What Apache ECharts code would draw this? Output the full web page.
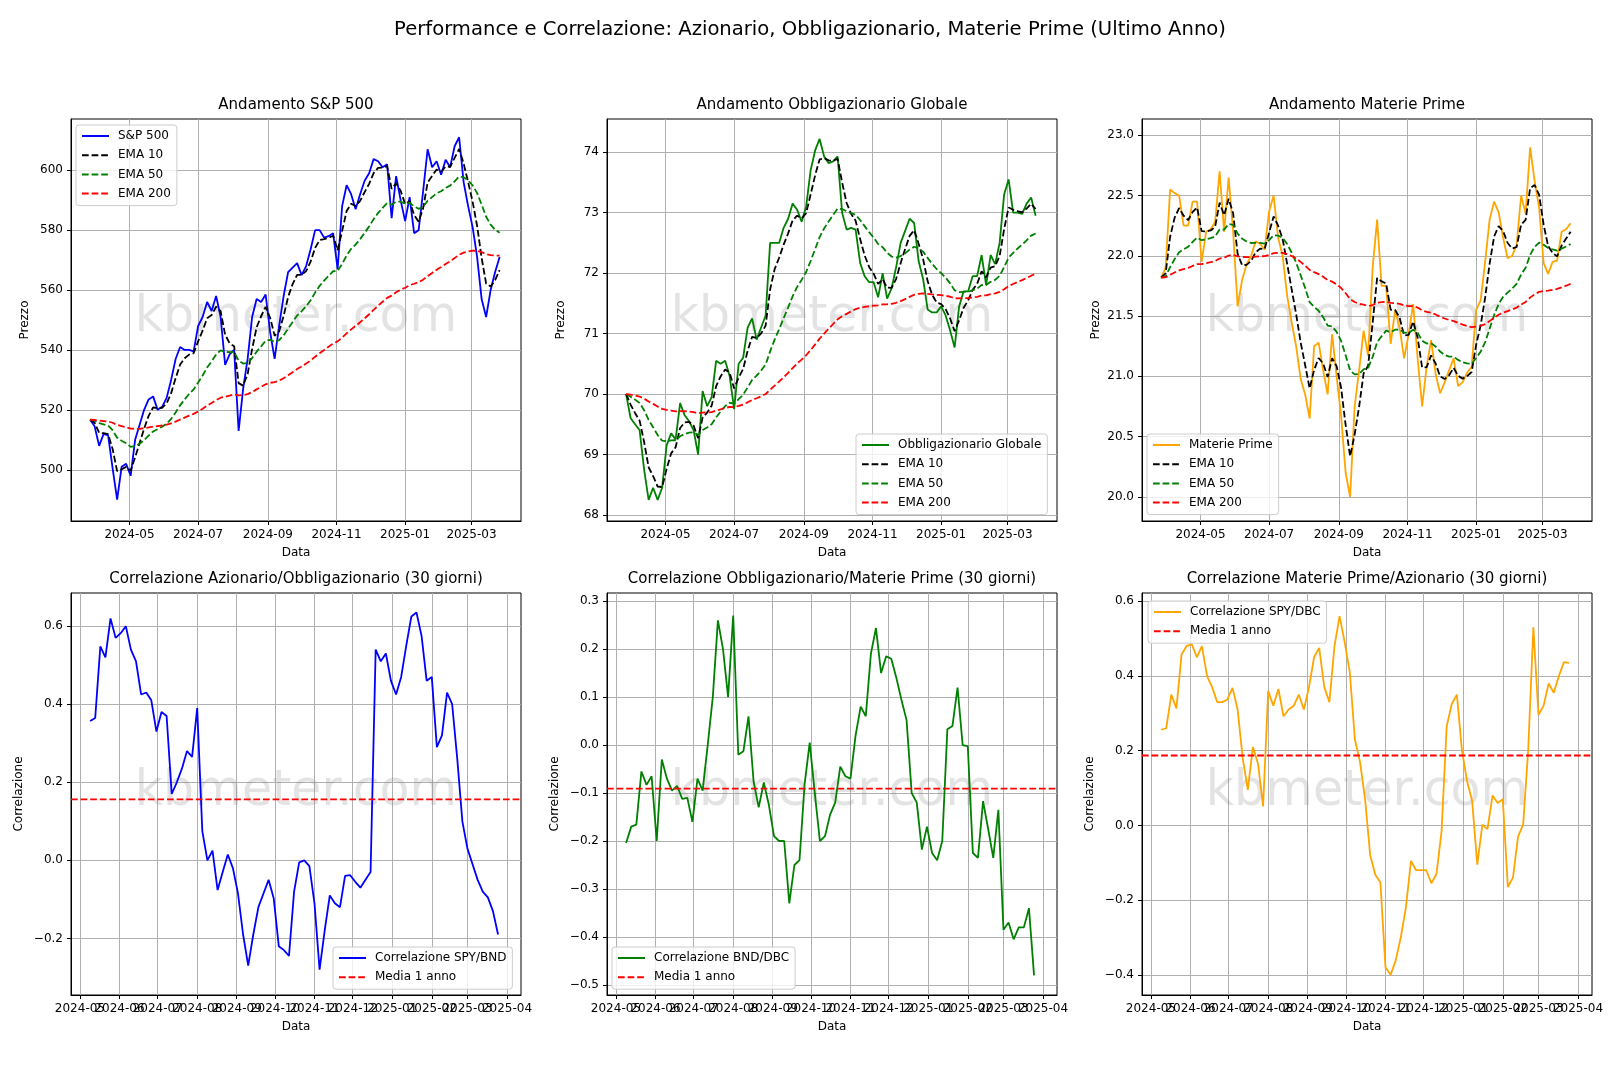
<!DOCTYPE html>
<html>
<head>
<meta charset="utf-8">
<title>Performance e Correlazione</title>
<script src="https://cdn.jsdelivr.net/npm/echarts@6/dist/echarts.min.js"></script>
<style>
  html, body { margin: 0; padding: 0; background: #fff; }
  #chart { width: 1620px; height: 1080px; }
</style>
</head>
<body>
<div id="chart"></div>
<script>
const FONT = 'DejaVu Sans'
const DAY = 86400000
const STEP = 4 // giorni tra un punto e l'altro

// prezzi: un punto ogni 4 giorni dal 2024-03-27
const priceStart = '2024-03-27'
const spx = [
  516.7, 514.5, 508, 512, 511.5, 500.5, 490, 501, 502, 498,
  510, 515, 520, 523.5, 524.5, 520, 521, 524, 530, 537,
  541, 540, 540, 539.5, 548, 551, 556, 553, 558, 551,
  535, 538.5, 540, 513, 527, 537, 551, 557, 556, 558.5,
  546, 537, 548, 558, 566, 567.5, 569, 565, 568, 573.6,
  580, 580, 577.5, 578, 579, 567, 588, 595, 592, 587,
  592, 596.5, 599, 603.7, 603, 601, 602, 584, 598, 590,
  583, 591, 579, 580, 593, 607, 601, 603, 598.5, 603.5,
  601, 608, 611, 596, 588, 581, 571, 557, 551, 560,
  566, 571
]
const bond = [
  70.0, 69.6, 69.5, 69.4, 68.75, 68.25, 68.45, 68.25, 68.45, 69.15,
  69.35, 69.25, 69.85, 69.65, 69.55, 69.4, 69.0, 70.05, 69.8, 69.95,
  70.55, 70.5, 70.55, 70.3, 69.75, 70.5, 70.6, 71.1, 71.25, 70.9,
  71.1, 71.3, 72.5, 72.5, 72.5, 72.75, 72.9, 73.15, 73.05, 72.85,
  73.1, 73.7, 74.03, 74.22, 73.93, 73.82, 73.85, 73.93, 73.0, 72.72,
  72.75, 72.72, 72.17, 71.95, 71.85, 71.85, 71.6, 72.0, 71.58, 71.75,
  72.1, 72.5, 72.7, 72.9, 72.83, 72.2, 71.9, 71.4, 71.35, 71.35,
  71.45, 71.3, 71.05, 70.77, 71.45, 71.7, 71.7, 71.95, 71.95, 72.3,
  71.8, 72.3, 72.15, 72.5, 73.3, 73.55, 73.0, 73.0, 72.98, 73.15,
  73.25, 72.95
]
const cmdty = [
  21.82, 21.9, 22.55, 22.52, 22.5, 22.25, 22.25, 22.45, 22.45, 21.95,
  22.2, 22.22, 22.28, 22.7, 22.2, 22.65, 22.2, 21.58, 21.8, 21.93,
  22.0, 22.12, 22.1, 22.05, 22.37, 22.5, 22.15, 22.0, 21.67, 21.45,
  21.25, 20.98, 20.85, 20.65, 21.25, 21.28, 21.05, 20.85, 21.35, 21.0,
  20.67, 20.2, 20.0, 20.75, 21.05, 21.38, 21.17, 21.9, 22.3, 21.75,
  21.75, 21.27, 21.55, 21.4, 21.15, 21.35, 21.6, 21.15, 20.75, 21.08,
  21.3, 21.02, 20.86, 20.95, 21.05, 21.15, 20.92, 20.95, 21.03, 21.08,
  21.55, 21.63, 21.95, 22.3, 22.45, 22.36, 22.15, 21.98, 22.0, 22.09,
  22.5, 22.35, 22.9, 22.62, 22.4, 21.94, 21.85, 21.95, 21.96, 22.2,
  22.22, 22.27
]

// correlazioni a 30 giorni: un punto ogni 4 giorni dal 2024-05-09
const corrStart = '2024-05-09'
const corrSpyBnd = [
  0.357, 0.365, 0.548, 0.52, 0.62, 0.57, 0.582, 0.6, 0.54, 0.51,
  0.425, 0.43, 0.41, 0.33, 0.38, 0.37, 0.17, 0.2, 0.235, 0.28,
  0.265, 0.39, 0.075, 0.0, 0.025, -0.076, -0.03, 0.015, -0.02, -0.085,
  -0.19, -0.27, -0.19, -0.12, -0.085, -0.05, -0.097, -0.22, -0.23, -0.245,
  -0.08, -0.005, 0.0, -0.015, -0.11, -0.28, -0.18, -0.09, -0.11, -0.12,
  -0.04, -0.038, -0.055, -0.07, -0.05, -0.03, 0.54, 0.51, 0.53, 0.46,
  0.425, 0.47, 0.55, 0.625, 0.635, 0.575, 0.46, 0.47, 0.29, 0.32,
  0.43, 0.40, 0.26, 0.1, 0.03, -0.01, -0.05, -0.08, -0.095, -0.13,
  -0.19
]
const corrBndDbc = [
  -0.204, -0.17, -0.166, -0.055, -0.083, -0.065, -0.2, -0.03, -0.07, -0.095,
  -0.085, -0.112, -0.11, -0.16, -0.07, -0.095, 0.0, 0.1, 0.26, 0.2,
  0.1, 0.27, -0.02, -0.013, 0.06, -0.076, -0.13, -0.078, -0.125, -0.19,
  -0.2, -0.2, -0.33, -0.25, -0.24, -0.082, 0.005, -0.1, -0.2, -0.19,
  -0.145, -0.12, -0.045, -0.065, -0.07, 0.02, 0.08, 0.06, 0.19, 0.244,
  0.15, 0.185, 0.18, 0.14, 0.094, 0.052, -0.1, -0.12, -0.218, -0.17,
  -0.225, -0.24, -0.2, 0.033, 0.04, 0.12, 0.0, -0.002, -0.225, -0.235,
  -0.117, -0.175, -0.235, -0.135, -0.385, -0.37, -0.405, -0.38, -0.38, -0.34,
  -0.48
]
const corrSpyDbc = [
  0.256, 0.26, 0.35, 0.313, 0.457, 0.48, 0.485, 0.45, 0.48, 0.4,
  0.37, 0.33, 0.33, 0.337, 0.368, 0.31, 0.18, 0.095, 0.21, 0.165,
  0.051, 0.36, 0.32, 0.365, 0.292, 0.31, 0.32, 0.35, 0.31, 0.37,
  0.45, 0.475, 0.37, 0.33, 0.48, 0.56, 0.49, 0.41, 0.23, 0.17,
  0.07, -0.08, -0.132, -0.152, -0.38, -0.4, -0.362, -0.3, -0.22, -0.095,
  -0.12, -0.12, -0.12, -0.155, -0.13, -0.016, 0.265, 0.325, 0.35, 0.2,
  0.118, 0.065, -0.105, 0.002, -0.01, 0.08, 0.06, 0.07, -0.165, -0.14,
  -0.03, 0.002, 0.205, 0.53, 0.296, 0.32, 0.38, 0.355, 0.40, 0.437,
  0.435
]
// media su 1 anno (linea rossa tratteggiata)
const corrMeans = [0.156, -0.091, 0.187]

// etichette degli assi
const topTicks = ['2024-05', '2024-07', '2024-09', '2024-11', '2025-01', '2025-03']
const bottomTicks = ['2024-05', '2024-06', '2024-07', '2024-08', '2024-09', '2024-10',
  '2024-11', '2024-12', '2025-01', '2025-02', '2025-03', '2025-04']
const priceTicks = [
  [500, 520, 540, 560, 580, 600],
  [68, 69, 70, 71, 72, 73, 74],
  [20.0, 20.5, 21.0, 21.5, 22.0, 22.5, 23.0]
]
const corrTicks = [
  [-0.2, 0.0, 0.2, 0.4, 0.6],
  [-0.5, -0.4, -0.3, -0.2, -0.1, 0.0, 0.1, 0.2, 0.3],
  [-0.4, -0.2, 0.0, 0.2, 0.4, 0.6]
]

const ts = s => Date.parse((s.length === 7 ? s + '-01' : s) + 'T00:00:00Z')

function ema(values, span) {
  // EMA giornaliera riportata al passo di campionamento (giorni di borsa per passo)
  const a = 1 - Math.pow(1 - 2 / (span + 1), STEP * 5 / 7)
  const out = []
  values.forEach((v, i) => out.push(i === 0 ? v : out[i - 1] + a * (v - out[i - 1])))
  return out
}
const toPoints = (start, values) => values.map((v, i) => [ts(start) + i * STEP * DAY, v])

const pad2 = n => (n < 10 ? '0' : '') + n
const fmtMonth = v => {
  const d = new Date(v)
  return d.getUTCFullYear() + '-' + pad2(d.getUTCMonth() + 1)
}
const minus = s => s.replace('-', '\u2212')

const gridPos = [[71, 119], [607, 119], [1142, 119], [71, 593], [607, 593], [1142, 593]]
const xRange = [['2024-03-10', '2025-04-14'], ['2024-04-24', '2025-04-12']]
const yRange = [[482.9, 617.1], [67.9, 74.55], [19.8, 23.135], [-0.345, 0.685], [-0.521, 0.317], [-0.454, 0.622]]
const yFmt = [
  v => String(Math.round(v)), v => String(Math.round(v)), v => v.toFixed(1),
  v => minus(v.toFixed(1)), v => minus(v.toFixed(1)), v => minus(v.toFixed(1))
]
const yName = ['Prezzo', 'Prezzo', 'Prezzo', 'Correlazione', 'Correlazione', 'Correlazione']
const titles = [
  'Andamento S&P 500', 'Andamento Obbligazionario Globale', 'Andamento Materie Prime',
  'Correlazione Azionario/Obbligazionario (30 giorni)',
  'Correlazione Obbligazionario/Materie Prime (30 giorni)',
  'Correlazione Materie Prime/Azionario (30 giorni)'
]

const labelStyle = { fontFamily: FONT, fontSize: 12, color: '#000' }
const grid = [], xAxis = [], yAxis = [], graphic = []
const extraX = [] // assi x sovrapposti: le etichette mensili si accavallano come nell'originale

gridPos.forEach(([left, top], k) => {
  const row = k < 3 ? 0 : 1
  const xTicks = (row === 0 ? topTicks : bottomTicks).map(ts)
  const yTicks = row === 0 ? priceTicks[k] : corrTicks[k - 3]
  const xMin = ts(xRange[row][0]), xMax = ts(xRange[row][1])
  // in basso i mesi vanno su due assi alternati, così nessuna etichetta viene nascosta
  const mainLabels = row === 0 ? xTicks : xTicks.filter((t, i) => i % 2 === 0)
  grid.push({ left, top, width: 450, height: 402, show: true, borderColor: '#000', borderWidth: 1 })
  xAxis.push({
    gridIndex: k, type: 'value', min: xMin, max: xMax,
    axisLine: { show: true, onZero: false, lineStyle: { color: '#000', width: 1 } },
    axisTick: { show: true, length: 4, customValues: xTicks, lineStyle: { color: '#000' } },
    axisLabel: { customValues: mainLabels, formatter: fmtMonth, margin: 8, hideOverlap: false, ...labelStyle },
    splitLine: { show: true, lineStyle: { color: '#b0b0b0', width: 1 } },
    name: 'Data', nameLocation: 'middle', nameGap: 26, nameTextStyle: labelStyle
  })
  if (row === 1) {
    const odd = xTicks.filter((t, i) => i % 2 === 1)
    extraX.push({
      gridIndex: k, type: 'value', min: xMin, max: xMax, position: 'bottom', offset: 0,
      axisLine: { show: false, onZero: false },
      axisTick: { show: false, customValues: odd },
      axisLabel: { customValues: odd, formatter: fmtMonth, margin: 8, hideOverlap: false, ...labelStyle },
      splitLine: { show: false }
    })
  }
  yAxis.push({
    gridIndex: k, type: 'value',
    min: yRange[k][0], max: yRange[k][1],
    axisLine: { show: true, onZero: false, lineStyle: { color: '#000', width: 1 } },
    axisTick: { show: true, length: 4, customValues: yTicks, lineStyle: { color: '#000' } },
    axisLabel: { customValues: yTicks, formatter: yFmt[k], margin: 8, ...labelStyle },
    splitLine: { show: true, lineStyle: { color: '#b0b0b0', width: 1 } },
    name: yName[k], nameLocation: 'middle', nameGap: row === 0 ? 40 : 46, nameTextStyle: labelStyle
  })
  graphic.push({
    type: 'text', x: left + 225, y: top + 199, z: 1, silent: true,
    style: { text: 'kbmeter.com', fontFamily: FONT, fontSize: 49, fill: 'rgba(128,128,128,0.22)', align: 'center', verticalAlign: 'middle' }
  })
  graphic.push({
    type: 'text', x: left + 225, y: top - 13.5, silent: true,
    style: { text: titles[k], fontFamily: FONT, fontSize: 15, fill: '#000', align: 'center', verticalAlign: 'middle' }
  })
})
graphic.push({
  type: 'text', x: 810, y: 30, silent: true,
  style: {
    text: 'Performance e Correlazione: Azionario, Obbligazionario, Materie Prime (Ultimo Anno)',
    fontFamily: FONT, fontSize: 19.6, fill: '#000', align: 'center', verticalAlign: 'middle'
  }
})

const DASH = [6.7, 2.9]
const series = []
function line(k, name, color, data, dashed) {
  series.push({
    name, type: 'line', xAxisIndex: k, yAxisIndex: k, data,
    symbol: 'none', silent: true, animation: false,
    itemStyle: { color },
    lineStyle: { color, width: 1.8, type: dashed ? DASH : 'solid' },
    emphasis: { disabled: true }
  })
}

const prices = [['S&P 500', '#0000ff', spx], ['Obbligazionario Globale', '#008000', bond], ['Materie Prime', '#ffa500', cmdty]]
prices.forEach(([name, color, values], k) => {
  line(k, name, color, toPoints(priceStart, values), false)
  line(k, 'EMA 10', '#000000', toPoints(priceStart, ema(values, 10)), true)
  line(k, 'EMA 50', '#008000', toPoints(priceStart, ema(values, 50)), true)
  line(k, 'EMA 200', '#ff0000', toPoints(priceStart, ema(values, 200)), true)
})

const corrs = [['Correlazione SPY/BND', '#0000ff', corrSpyBnd], ['Correlazione BND/DBC', '#008000', corrBndDbc], ['Correlazione SPY/DBC', '#ffa500', corrSpyDbc]]
corrs.forEach(([name, color, values], j) => {
  const k = j + 3
  line(k, name, color, toPoints(corrStart, values), false)
  line(k, 'Media 1 anno', '#ff0000', [[ts(xRange[1][0]), corrMeans[j]], [ts(xRange[1][1]), corrMeans[j]]], true)
})

const legendPos = [
  [76, 125, ['S&P 500', 'EMA 10', 'EMA 50', 'EMA 200']],
  [856, 434, ['Obbligazionario Globale', 'EMA 10', 'EMA 50', 'EMA 200']],
  [1147, 434, ['Materie Prime', 'EMA 10', 'EMA 50', 'EMA 200']],
  [333, 947, ['Correlazione SPY/BND', 'Media 1 anno']],
  [612, 947, ['Correlazione BND/DBC', 'Media 1 anno']],
  [1148, 601, ['Correlazione SPY/DBC', 'Media 1 anno']]
]
const legend = legendPos.map(([left, top, data]) => ({
  left, top, data, orient: 'vertical', selectedMode: false,
  itemWidth: 27, itemHeight: 14, itemGap: 7.2,
  padding: [5, 6, 6, 5],
  backgroundColor: 'rgba(255,255,255,0.8)', borderColor: '#cccccc', borderWidth: 1, borderRadius: 3,
  itemStyle: { opacity: 0 },
  textStyle: { ...labelStyle, padding: [0, 0, 0, 4] }
}))

const chart = echarts.init(document.getElementById('chart'))
chart.setOption({
  backgroundColor: '#ffffff',
  animation: false,
  textStyle: { fontFamily: FONT },
  grid, xAxis: xAxis.concat(extraX), yAxis, legend, graphic, series
})
window.onresize = chart.resize
</script>
</body>
</html>
